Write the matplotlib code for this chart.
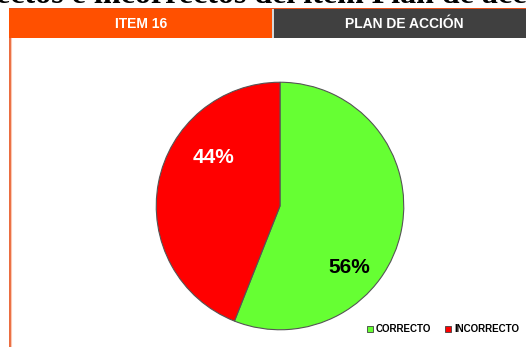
import matplotlib.pyplot as plt
from matplotlib.patches import Rectangle
from matplotlib import font_manager

labels = ['CORRECTO', 'INCORRECTO']
values = [56, 44]
colors = ['#66FF33', '#FF0000']
header_left = 'ITEM 16'
header_right = 'PLAN DE ACCIÓN'
caption = 'Porcentaje de correctos e incorrectos del ítem Plan de acción'

names = {f.name for f in font_manager.fontManager.ttflist}
narrow = 'Liberation Sans Narrow' if 'Liberation Sans Narrow' in names else 'Liberation Sans'

W, H = 526, 347
fig = plt.figure(figsize=(W / 100, H / 100), dpi=100)
fig.patch.set_facecolor('white')

# background layer in pixel coords (y from top)
bg = fig.add_axes([0, 0, 1, 1])
bg.set_xlim(0, W)
bg.set_ylim(H, 0)
bg.axis('off')
bg.add_patch(Rectangle((9, 8), 517, 1.2, facecolor='#E8501A', edgecolor='none'))
bg.add_patch(Rectangle((9, 9), 263, 29, facecolor='#FF5000', edgecolor='none'))
bg.add_patch(Rectangle((272, 9), 2, 29, facecolor='#D8D8D8', edgecolor='none'))
bg.add_patch(Rectangle((274, 9.2), 252, 28.8, facecolor='#404040', edgecolor='none'))
bg.plot([9.5, 9.5], [38, H], color='#E8501A', lw=1.2)
bg.plot([10.5, 10.5], [38, H], color='#FBC9B5', lw=0.8)
bg.text(141, 24, header_left, color='white', fontsize=10, fontweight='bold',
        family=narrow, ha='center', va='center')
bg.text(404, 24, header_right, color='white', fontsize=10, fontweight='bold',
        family=narrow, ha='center', va='center')
# caption of the page above, cropped in the source image
bg.text(569, 3, caption, color='black', fontsize=23, fontweight='bold',
        family='Liberation Serif', ha='right', va='baseline')

# pie
cx, cy, r = 280, 206, 125
ax = fig.add_axes([(cx - r) / W, (H - cy - r) / H, 2 * r / W, 2 * r / H])
wedges, _ = ax.pie(values, colors=colors, startangle=90, counterclock=False,
                   wedgeprops=dict(edgecolor='#555555', linewidth=0.8))
ax.set_xlim(-1.01, 1.01)
ax.set_ylim(-1.01, 1.01)
ax.text(0.56, -0.50, f'{values[0]}%', color='black', fontsize=15, fontweight='bold',
        family=narrow, ha='center', va='center')
ax.text(-0.54, 0.39, f'{values[1]}%', color='white', fontsize=15, fontweight='bold',
        family=narrow, ha='center', va='center')

# legend
lx = [367, 445]
for x0, lab, col in zip(lx, labels, colors):
    bg.add_patch(Rectangle((x0, 326), 6, 6, facecolor=col, edgecolor='#404040', lw=0.6))
    bg.text(x0 + 9, 329.5, lab, color='black', fontsize=7, fontweight='bold',
            family=narrow, ha='left', va='center')

fig.savefig('out.png', dpi=100)
